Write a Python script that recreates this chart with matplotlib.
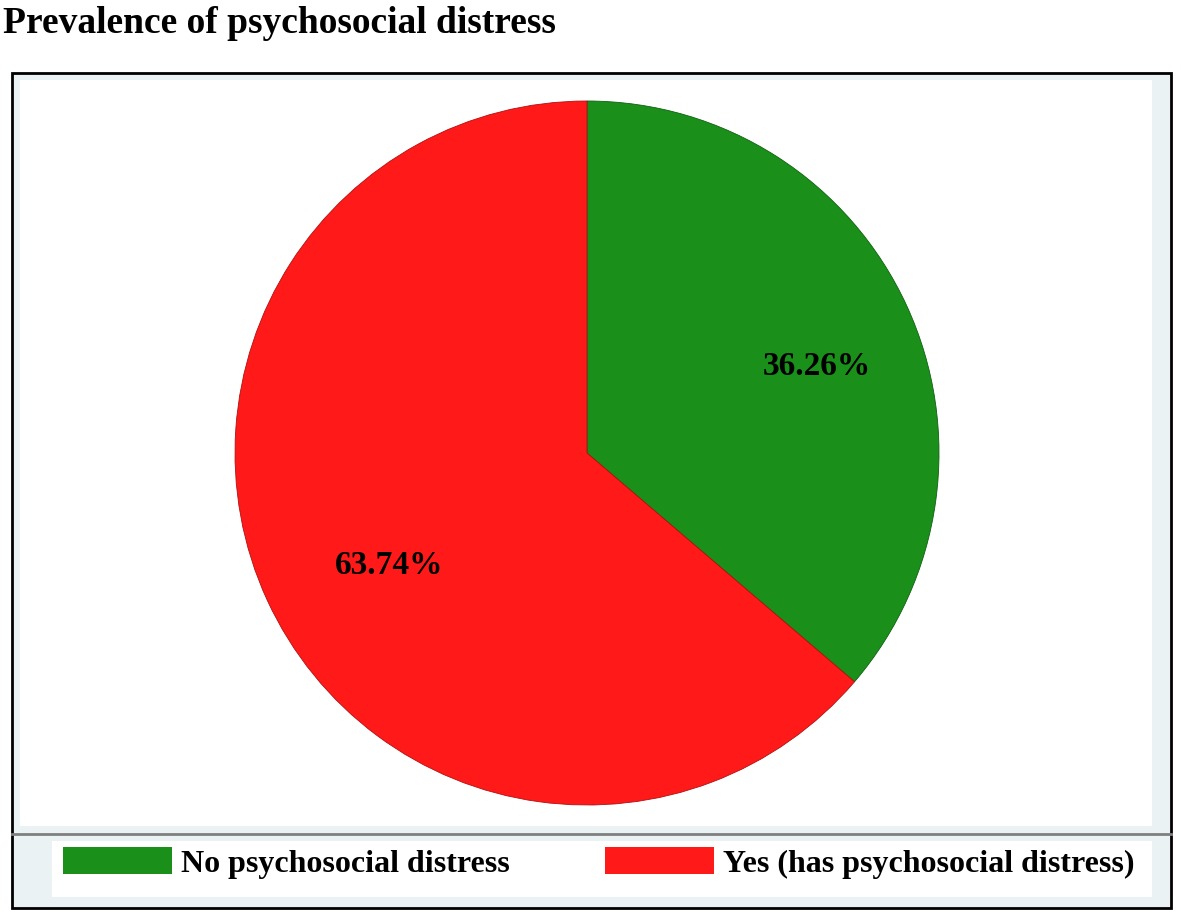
import matplotlib
matplotlib.use("Agg")
import matplotlib.pyplot as plt
from matplotlib.patches import Rectangle
from matplotlib.lines import Line2D

title = "Prevalence of psychosocial distress"
categories = ["No psychosocial distress", "Yes (has psychosocial distress)"]
values = [36.26, 63.74]
colors = ["#1A8F1A", "#FF1919"]

W, H = 1181, 914
fig = plt.figure(figsize=(W / 100, H / 100), dpi=100)
fig.patch.set_facecolor("white")
FONT = "Liberation Serif"

def fx(x):
    return x / W

def fy(y):
    return 1 - y / H

# graph region background (light) and outer frame
fig.patches.append(Rectangle((fx(12), fy(908)), fx(1171 - 12), (908 - 73) / H,
                             transform=fig.transFigure, facecolor="#EAF2F3",
                             edgecolor="black", linewidth=2, zorder=0))
# white plot region
fig.patches.append(Rectangle((fx(20), fy(826)), fx(1152 - 20), (826 - 80) / H,
                             transform=fig.transFigure, facecolor="white",
                             edgecolor="none", zorder=1))
# legend white box
fig.patches.append(Rectangle((fx(52), fy(897)), fx(1152 - 52), (897 - 841) / H,
                             transform=fig.transFigure, facecolor="white",
                             edgecolor="none", zorder=1))
# separator line
fig.lines.append(Line2D([fx(12), fx(1171)], [fy(834), fy(834)],
                        transform=fig.transFigure, color="#7F7F7F",
                        linewidth=2, zorder=2))

# pie
cx, cy, R = 587, 453, 352
ax = fig.add_axes([fx(cx - R), fy(cy + R), fx(2 * R), 2 * R / H])
ax.set_zorder(3)
wedges, texts, autotexts = ax.pie(
    values, colors=colors, startangle=90, counterclock=False,
    autopct=lambda p: f"{p:.2f}%", pctdistance=0.68,
    wedgeprops=dict(linewidth=0.6),
    textprops=dict(fontfamily=FONT, fontweight="bold", fontsize=24, color="black"),
)
wedges[0].set_edgecolor("#106010")
wedges[1].set_edgecolor("#B01010")
# small nudges of the percentage labels
for t, (dx, dy) in zip(autotexts, [(0.035, -0.04), (0.055, -0.035)]):
    x, y = t.get_position()
    t.set_position((x + dx, y + dy))
ax.set_xlim(-1, 1)
ax.set_ylim(-1, 1)
ax.axis("off")

# title
fig.text(fx(3), fy(33), title, fontfamily=FONT, fontweight="bold",
         fontsize=27, ha="left", va="baseline")

# legend
leg = fig.legend(wedges, categories, loc="center left",
                 bbox_to_anchor=(fx(63), fy(863)), ncol=2, frameon=False,
                 prop=dict(family=FONT, weight="bold", size=23),
                 handlelength=3.4, handleheight=0.9, handletextpad=0.28,
                 columnspacing=3.0, borderaxespad=0, borderpad=0)
for h in leg.legend_handles:
    h.set_edgecolor("none")
leg.set_zorder(4)

fig.savefig("out.png", dpi=100, facecolor="white")
